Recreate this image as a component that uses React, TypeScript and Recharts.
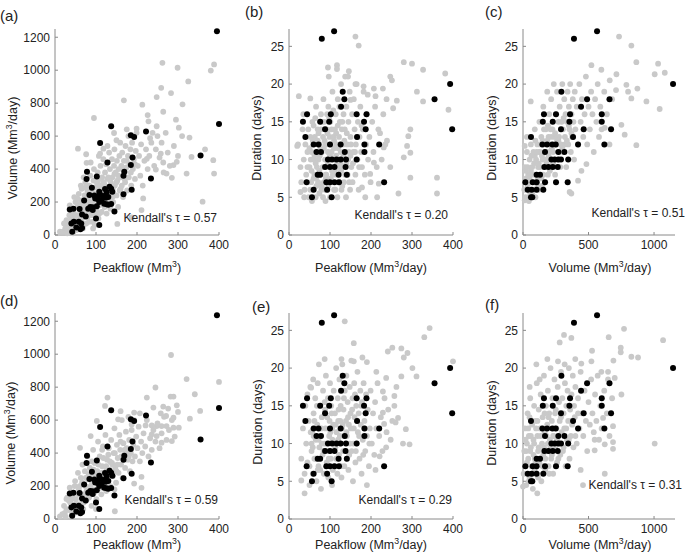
import { ScatterChart, Scatter, XAxis, YAxis } from 'recharts'

type Pt = [number, number]

// observed events (black) - same in top and bottom rows
const peakVolObs: Pt[] = [
  [395,1236],[400,674],[355,482],[222,628],[185,606],[193,595],[137,660],[110,559],[189,471],[185,424],
  [128,440],[78,384],[169,384],[77,340],[102,355],[167,360],[234,343],[133,293],[137,281],[90,287],
  [122,279],[187,274],[167,247],[108,262],[126,259],[84,242],[96,240],[102,232],[110,245],[118,236],
  [124,226],[98,222],[104,218],[114,214],[130,230],[140,262],[71,210],[120,190],[126,186],[130,184],
  [108,200],[137,188],[86,170],[92,168],[102,175],[145,142],[36,155],[45,160],[60,158],[81,160],
  [92,152],[66,125],[75,112],[100,100],[108,60],[58,80],[64,70],[46,80],[40,70],[66,42],
  [42,20],[62,35],[52,45],
]
const peakDurObs: Pt[] = [
  [80,26],[110,27],[131,19],[135,18],[127,17],[393,20],[355,18],[398,14],[44,16],[102,16],
  [165,16],[189,16],[34,15],[76,15],[98,15],[183,15],[88,14],[187,14],[40,13],[166,13],
  [60,12],[72,12],[100,12],[126,12],[184,12],[220,12],[67,11],[78,11],[136,11],[184,11],
  [95,10],[105,10],[116,10],[126,10],[139,10],[165,10],[88,9],[100,9],[111,9],[138,9],
  [70,8],[76,8],[121,8],[141,8],[43,7],[91,7],[100,7],[111,7],[122,7],[232,7],
  [60,6],[93,6],[56,5],[104,5],
]
const volDurObs: Pt[] = [
  [389,26],[565,27],[1145,20],[293,19],[489,18],[660,18],[443,17],[160,16],[252,16],[359,16],
  [601,16],[151,15],[227,15],[354,15],[601,15],[290,14],[463,14],[672,14],[61,13],[382,13],
  [148,12],[184,12],[224,12],[250,12],[420,12],[621,12],[168,11],[270,11],[316,11],[217,10],
  [242,10],[270,10],[290,10],[345,10],[163,9],[194,9],[227,9],[265,9],[104,8],[130,8],
  [252,7],[18,7],[74,7],[104,7],[168,7],[341,7],[36,6],[66,6],[104,6],[155,6],
  [61,5],[71,5],
]

// simulated events (gray), model 1 (top row)
const peakVolSim1: Pt[] = [
  [262,1045],[299,1015],[388,1035],[380,998],[325,932],[259,893],[248,837],[283,861],[168,817],[213,791],
  [311,793],[264,748],[95,710],[226,728],[248,660],[302,651],[328,591],[175,641],[199,645],[232,587],
  [144,619],[150,575],[118,524],[56,524],[76,490],[77,438],[110,494],[388,373],[366,520],[360,202],
  [285,347],[289,424],[272,373],[246,397],[224,462],[258,494],[264,440],[297,444],[333,474],[386,454],
  [321,373],[215,222],[211,151],[187,107],[152,67],[12,20],[28,50],[45,111],
  [20,20],[25,40],[28,90],[30,10],[32,60],[35,120],[38,30],[40,100],[22,70],[36,180],
  [42,50],[45,140],[48,90],[50,200],[52,30],[55,170],[56,120],[58,250],[60,60],[47,230],[53,100],[44,10],
  [62,150],[64,210],[65,280],[66,100],[68,40],[70,180],[72,240],[74,320],[75,130],[76,70],[78,200],[79,270],[70,350],[63,300],
  [80,110],[82,170],[84,300],[85,230],[86,360],[88,140],[90,200],[91,260],[92,80],[94,330],[95,400],[96,180],[98,120],[99,290],[87,440],[93,40],
  [100,220],[101,150],[102,320],[104,380],[105,260],[106,100],[108,180],[110,300],[111,420],[112,230],[114,140],[115,350],[116,270],[118,460],[119,200],[107,480],
  [120,310],[121,170],[122,380],[124,250],[125,430],[126,130],[128,340],[130,210],[131,290],[132,500],[134,400],[135,160],[136,320],[138,240],[139,460],[128,540],
  [140,350],[141,280],[142,200],[144,420],[145,520],[146,300],[148,380],[150,240],[151,450],[152,330],[154,170],[155,400],[157,480],[158,270],[159,560],
  [160,350],[162,420],[163,300],[164,500],[166,230],[168,450],[170,380],[171,320],[172,540],[174,410],[176,270],[178,480],[179,600],
  [180,350],[182,430],[184,520],[186,300],[188,560],[190,400],[192,460],[195,340],[197,510],[199,620],
  [202,420],[205,480],[208,360],[210,550],[214,300],[218,450],[222,520],[226,400],[230,480],[235,560],[238,620],[228,690],
  [242,420],[246,520],[250,600],[255,470],[260,560],[265,380],[270,620],[275,500],[280,420],[290,540],[295,700],[300,480],[310,600],
  [30,40],[35,80],[40,150],[45,50],[50,120],[55,220],[60,100],[62,190],[67,140],[70,60],
  [72,160],[75,290],[80,210],[83,80],[85,180],[88,260],[90,120],[95,240],[97,60],[100,180],
  [103,250],[105,330],[108,130],[112,280],[115,190],[118,320],[122,220],[125,280],[130,350],[135,260],
  [140,230],[145,370],[150,320],[155,360],[160,280],[165,400],[170,340],[175,450],[185,380],[195,430],
]
const peakDurSim1: Pt[] = [
  [162,26.3],[170,25.1],[117,22.5],[95,22.2],[146,21.7],[137,21],[280,22.9],[300,22.7],[327,21.9],[381,21.4],
  [247,21],[251,20.5],[312,19],[162,20],[182,19.7],[207,19.4],[229,19.4],[192,18.6],[211,18.4],[24,18.4],
  [52,18.1],[327,17.7],[389,16.6],[263,17.8],[150,17.9],[254,16.8],[296,14],[291,13.1],[288,11.8],[296,10.9],
  [280,10.3],[361,7.6],[296,7.6],[267,5.5],[361,5.5],[215,5],[178,6.3],[247,9],[239,12.5],[231,11.6],
  [207,9.6],[198,8.1],[219,6.8],[20,11.8],[28,5.7],[37,5],
  [22,12],[28,9],[30,7],[33,14],[36,10],[38,6],[40,12],[42,8],[45,11],[48,5],[35,16],[47,14],
  [50,9],[52,13],[54,7],[55,11],[57,15],[58,6],[60,10],[62,8],[63,13],[65,5],[66,17],[68,9],[69,11],[56,4.5],
  [70,14],[71,7],[72,10],[74,5.5],[75,12],[76,8],[78,16],[79,6],[80,11],[82,9],[83,13],[85,7],[86,15],[88,10],[89,4.5],[84,18],
  [90,12],[91,8],[92,14],[94,6],[95,11],[96,17],[98,9],[99,13],[100,5],[101,15],[103,7],[104,11],[106,19],[107,8],[108,13],[110,6],[97,21],
  [111,10],[112,14],[114,16],[115,8],[116,12],[118,5],[119,18],[120,9],[122,13],[123,7],[124,15],[126,11],[127,20],[128,6],[129,14],[117,22],
  [130,9],[132,12],[133,16],[134,7],[136,14],[138,10],[139,5],[140,17],[142,12],[143,8],[145,15],[146,11],[148,19],[149,6],[144,21],
  [150,13],[152,9],[154,16],[155,7],[157,11],[158,18],[160,14],[162,8],[163,12],[165,20],[167,10],[168,15],
  [170,6],[172,13],[174,17],[176,11],[178,9],[180,14],[182,19],[185,8],[188,12],[190,16],[193,10],[196,13],[199,7],[186,5],
  [203,15],[206,11],[210,17],[214,9],[218,14],[222,13.5],[226,10],[230,16],[235,12],[238,18],
  [55,8.5],[65,9.5],[75,10.5],[85,11.5],[95,9.5],[105,8.5],[115,10.5],[125,9.5],[135,12.5],[60,7.5],
  [70,12.5],[80,6.5],[90,7.5],[100,10.5],[110,12.5],[120,11.5],[130,6.5],[140,9.5],[150,10.5],[50,11.5],
  [45,9],[60,14.5],[78,14],[102,12],[112,8.5],[88,6],[67,6.5],[53,10],[93,16],[123,17],
  [52,6],[58,12.5],[62,10.5],[64,15.5],[66,7.5],[72,13.5],[74,8.5],[77,11.5],[81,15],[83,5],
  [87,12.5],[89,8],[92,10],[94,13.5],[96,6.5],[98,15.5],[102,7.5],[104,14],[106,9],[108,16.5],
  [110,11.5],[113,6],[115,13.5],[117,9.5],[119,14.5],[121,7],[124,12],[127,8.5],[130,15],[133,10.5],
  [137,8],[141,13.5],[144,10],[147,7],[151,12],[156,9.5],[161,11],[166,13],[171,9],[177,14.5],
]
const volDurSim1: Pt[] = [
  [733,26.3],[827,25.1],[865,22.9],[1031,22.7],[1082,21.5],[1005,21.3],[713,21.3],[598,21.9],[662,20.5],[522,22.5],
  [789,19.9],[873,19.4],[802,19],[710,19.2],[942,17.7],[1043,16.7],[827,18.1],[751,14.6],[865,11.9],[776,13.3],
  [624,14.2],[484,9.4],[420,7.2],[446,8.5],[369,5.5],[356,5.7],[59,17.7],[13,4.6],[13,11.8],[51,5],
  [10,6],[15,9],[20,5],[25,7.5],[30,11],[35,6.5],[40,8],[45,4.5],[50,10],[55,5.5],[60,12],[65,7],[70,9],[75,6],[80,11],[85,8],[90,14],[95,5],[100,10],[30,13],
  [105,7],[110,12],[115,9],[120,6],[125,15],[130,11],[135,8],[140,13],[145,6.5],[150,10],[155,17],[160,9],[165,12],[170,7],[175,14],[180,11],[185,19],[190,8],[195,13],[200,16],
  [205,10],[210,12],[215,18],[220,9],[225,14],[230,11],[235,20],[240,13],[245,8],[250,16],[255,12],[260,19],[265,10],[270,15],[275,13],[280,17],[285,9],[290,12],[295,15],[300,20],
  [305,14],[310,11],[315,18],[320,13],[325,16],[330,9],[335,15],[340,19],[345,12],[350,17],[355,14],[360,20],[365,11],[370,16],[375,13],[380,18],[385,15],[390,10],[395,19],[400,14],
  [410,17],[420,12],[430,20],[440,15],[450,18],[460,13],[470,16],[480,21],[490,12],[500,17],[510,14],[520,19],[530,16],[540,11],[550,18],[560,15],[570,20],[580,13],[590,17],[600,14],[620,19],[640,16],[660,12],[680,18],
  [60,8.5],[90,10.5],[120,9.5],[140,7.5],[170,10],[200,11],[230,9.5],[260,12.5],[110,6.5],[80,7],
  [150,12.5],[190,14.5],[240,10],[280,11],[320,12],[175,9],[125,11],[215,13],[95,12.5],[50,7.5],
  [20,8.5],[35,9],[45,6],[55,8],[65,10.5],[70,5.5],[85,9.5],[100,8],[105,11],[115,7.5],
  [130,9],[135,12],[145,10.5],[155,8],[160,14],[180,9.5],[185,12.5],[195,10.5],[205,8.5],[210,14],
  [220,11.5],[245,13.5],[255,10],[270,12.5],[290,14],[300,11.5],[310,15.5],[335,12.5],[350,14.5],[370,13.5],
]

// simulated events (gray), model 2 (bottom row)
const peakVolSim2: Pt[] = [
  [283,995],[321,849],[400,832],[341,757],[282,743],[289,743],[245,798],[224,737],[354,656],[329,609],
  [240,676],[264,682],[276,670],[297,690],[271,625],[289,615],[207,641],[258,641],[187,574],[221,568],
  [236,568],[248,564],[260,564],[236,514],[272,564],[302,554],[285,473],[260,463],[248,503],[289,554],
  [128,737],[122,686],[160,654],[154,605],[193,646],[102,595],[87,503],[61,432],[211,256],[211,189],
  [193,215],[146,47],[12,16],[24,37],[28,122],
  [18,30],[22,80],[26,15],[30,130],[33,55],[36,190],[38,95],[41,25],[44,160],[46,70],[49,230],[51,120],[54,40],[56,280],[58,180],
  [61,90],[63,250],[65,140],[67,330],[69,60],[71,210],[73,290],[75,110],[77,170],[79,380],[81,240],[83,130],[85,310],[87,200],[89,80],
  [91,270],[93,420],[95,160],[97,340],[99,230],[101,120],[103,290],[105,470],[107,190],[109,380],[111,250],[113,150],[115,320],[117,440],[119,210],
  [121,280],[123,510],[125,170],[127,360],[129,240],[131,430],[133,300],[135,200],[137,480],[139,340],[141,260],[143,400],[145,550],[147,310],[149,220],
  [151,450],[153,370],[155,280],[157,510],[159,420],[161,330],[163,600],[165,250],[167,460],[169,390],[171,310],[173,530],[175,430],[177,360],[179,620],
  [181,480],[183,290],[185,400],[187,540],[189,350],[191,450],[193,600],[195,380],[198,500],[201,430],[204,560],[207,350],[210,470],[213,400],[216,520],
  [220,440],[224,600],[228,380],[232,490],[236,420],[240,540],[245,470],[250,580],[255,430],[260,520],[266,620],[272,480],[278,540],[285,600],[292,500],[300,650],
  [40,120],[60,200],[80,160],[100,280],[120,230],[140,330],[90,350],[110,190],[130,390],[150,290],
  [70,100],[50,60],[170,420],[160,470],[180,380],[100,60],[75,250],[125,320],[145,180],[115,420],
  [28,60],[34,110],[39,50],[43,140],[48,200],[53,90],[57,150],[62,60],[66,220],[70,150],
  [74,200],[78,120],[82,270],[86,150],[90,220],[94,300],[98,180],[102,250],[106,330],[110,220],
  [114,280],[118,370],[122,260],[126,300],[134,350],[138,270],[146,400],[152,330],[162,380],[176,410],
]
const peakDurSim2: Pt[] = [
  [136,26.2],[158,23.3],[343,25.3],[330,24.1],[252,22.7],[241,22.2],[274,22.6],[289,22],[280,21.4],[87,21.2],
  [73,20.5],[128,21.2],[179,21.4],[190,20.8],[158,20.9],[213,19.5],[301,20],[311,18.9],[274,18.9],[237,18.7],
  [262,17.5],[400,20.9],[59,18.5],[54,17.4],[45,16.5],[229,16.9],[257,16.3],[257,15],[266,13.4],[260,12.8],
  [285,11.9],[278,10],[294,9.9],[211,6.5],[190,4.5],[221,8.3],[237,9.5],[38,3.4],[30,5.1],[229,14.1],[232,12.6],
  [30,8],[34,12],[38,6],[40,15],[42,10],[45,7.5],[48,13],[50,4.5],[52,17.5],[55,9],[57,11.5],[58,6],[60,14],[62,8],[64,16],
  [65,10.5],[67,5],[69,12.5],[70,18],[72,7],[74,9.5],[75,15],[77,11],[78,4],[80,13.5],[82,8.5],[83,17],[85,6],[86,10],[88,14.5],
  [89,12],[90,19],[92,7.5],[94,9],[95,16],[96,5.5],[98,11],[99,13],[100,18],[102,8],[103,15],[105,4.5],[106,10.5],[108,12.5],[109,17],
  [110,7],[112,14],[113,9.5],[115,20],[116,11.5],[118,6],[119,16],[120,13],[122,8.5],[123,18.5],[125,10],[126,15],[128,5.5],[129,12],[130,20.5],
  [132,9],[133,14.5],[135,7],[136,17],[138,11],[139,13],[140,19],[142,8],[143,15.5],[145,6.5],[146,12.5],[148,17.5],[149,10],[150,14],[152,21],
  [153,9],[155,16],[156,5],[158,12],[159,18],[160,13.5],[162,7.5],[164,15],[165,10],[167,19.5],[168,11.5],[170,14],[172,8],[174,17],[175,12.5],
  [177,6],[178,15.5],[180,10.5],[182,18],[184,13],[186,9],[188,16.5],[190,11],[192,14.5],[195,7],[197,12],[199,17],[202,10],[205,14],[208,8.5],
  [210,15.5],[213,12],[216,18],[220,11],[224,13.5],[228,9],[233,16],[238,11.5],[242,14.5],[248,10.5],[252,13],
  [55,10],[65,8],[75,12],[85,9],[95,7],[105,12],[115,8],[125,13],[135,11],[60,11],[80,10],[100,9],[120,10.5],[140,11.5],[70,6.5],
  [50,7],[53,11.5],[58,9.5],[62,13],[66,8],[68,15],[72,10.5],[76,6.5],[79,12],[84,9],
  [87,15.5],[91,10],[93,13.5],[97,8],[101,11.5],[104,14],[107,6.5],[111,10],[114,12.5],[117,8],
  [121,14.5],[124,11],[127,7],[131,12.5],[134,16],[137,9],[141,11],[144,13.5],[147,8.5],[151,12],
  [154,14.5],[157,10],[161,16.5],[163,9],[166,13],[171,11],[176,15],[181,8.5],[185,12],[196,10],
]
const volDurSim2: Pt[] = [
  [654,24.1],[771,25.2],[746,22.7],[827,21.5],[878,21.4],[1069,23.7],[746,22.1],[690,21],[649,19.5],[313,24.4],
  [280,23.4],[369,24],[527,22.3],[522,20.9],[399,21.2],[445,20.6],[186,21.2],[102,20.5],[267,20.9],[318,20.5],
  [598,19.5],[649,18.5],[700,18.7],[751,16.5],[1005,10],[611,13.4],[687,12.3],[687,10.2],[687,9.3],[624,9.9],
  [547,9.1],[624,6],[440,6.5],[458,4.5],[547,10.5],[109,3.4],[0,4.3],[51,17.5],[127,18.5],
  [5,6],[10,9],[15,12],[20,7],[25,4.5],[30,10],[35,14],[40,8],[45,11],[50,5.5],[55,16],[60,9.5],[65,7],[70,12.5],[75,4],
  [80,10.5],[85,15],[90,8],[95,13],[100,6],[105,18],[110,11],[115,9],[120,14.5],[125,7.5],[130,12],[135,16.5],[140,5],[145,10],[150,13.5],
  [155,8.5],[160,19],[165,11.5],[170,6.5],[175,15],[180,9],[185,12.5],[190,17],[195,7],[200,14],[205,10.5],[210,20],[215,8],[220,13],[225,16],
  [230,6],[235,11],[240,18.5],[245,9.5],[250,14.5],[255,12],[260,7.5],[265,17.5],[270,10],[275,15.5],[280,13],[285,8.5],[290,19.5],[295,11.5],[300,16],
  [305,9],[310,14],[315,12],[320,18],[325,7],[330,15],[335,10.5],[340,17],[345,13],[350,20],[355,8],[360,14.5],[365,11],[370,16.5],[375,12.5],
  [380,19],[385,9.5],[390,15],[395,13.5],[400,17.5],[410,10],[420,16],[430,12],[440,19.5],[450,14],[460,11],[470,17],[480,13],[490,9],[500,15.5],
  [510,12.5],[520,18.5],[530,14],[540,11.5],[550,16.5],[560,13],[570,19],[580,10.5],[590,15],[600,12],[620,17],[640,14],[660,11],[680,16],
  [30,7.5],[60,11],[90,6.5],[120,9.5],[150,7],[180,11],[210,9.5],[240,12],[270,8],[110,13],[80,8.5],[200,6],[50,13.5],[140,12],[260,10.5],[20,10.5],
  [15,7],[25,9],[40,12],[45,5],[55,9],[65,13],[70,6],[85,10],[95,7.5],[100,12],
  [115,5.5],[130,8],[135,11],[160,9.5],[165,14],[170,8],[190,10],[195,13.5],[220,8.5],[230,11],
  [245,14],[250,7],[280,10],[290,13.5],[310,9.5],[330,12],[350,10.5],[370,13],[400,11],[420,14],
]

const PEAK_TICKS = [0, 100, 200, 300, 400]
const VOL_TICKS = [0, 200, 400, 600, 800, 1000, 1200]
const VOLX_TICKS = [0, 500, 1000]
const DUR_TICKS = [0, 5, 10, 15, 20, 25]
const TAUS = ['0.57', '0.20', '0.51', '0.59', '0.29', '0.31']
const LETTERS = ['(a)', '(b)', '(c)', '(d)', '(e)', '(f)']

const GRAY = '#c9c9c9'
const AXIS = '#8a8a8a'
const TEXT = '#222'
const FONT = '"Liberation Sans", Arial, Helvetica, sans-serif'

const toPts = (arr: Pt[]) => arr.map(([x, y]) => ({ x, y }))

const grayDot = (p: any) => <circle cx={p.cx} cy={p.cy} r={2.9} fill={GRAY} />
const blackDot = (p: any) => <circle cx={p.cx} cy={p.cy} r={3} fill="#000" />

function Panel({ left, top, width, sim, obs, xMax, xTicks, yMax, yTicks }: any) {
  return (
    <div style={{ position: 'absolute', left, top }}>
      <ScatterChart width={width} height={270} margin={{ top: 29, right: 11, left: 0, bottom: 0 }}>
        <XAxis
          type="number"
          dataKey="x"
          domain={[0, xMax]}
          ticks={xTicks}
          height={35}
          stroke={AXIS}
          tickSize={-3}
          tickMargin={8}
          tick={{ fill: TEXT, fontSize: 12, fontFamily: FONT }}
        />
        <YAxis
          type="number"
          dataKey="y"
          domain={[0, yMax]}
          ticks={yTicks}
          width={55}
          stroke={AXIS}
          tickSize={-3}
          tickMargin={8}
          tick={{ fill: TEXT, fontSize: 12, fontFamily: FONT }}
        />
        <Scatter data={toPts(sim)} shape={grayDot} isAnimationActive={false} />
        <Scatter data={toPts(obs)} shape={blackDot} isAnimationActive={false} />
      </ScatterChart>
    </div>
  )
}

const Mm3 = () => (
  <>Mm<sup style={{ fontSize: '0.7em', lineHeight: 0 }}>3</sup></>
)

function XTitle({ cx, cy, children }: any) {
  return (
    <div style={{ position: 'absolute', left: cx, top: cy, transform: 'translate(-50%,-50%)', whiteSpace: 'nowrap', fontSize: 12.5 }}>
      {children}
    </div>
  )
}

function YTitle({ cx, cy, children }: any) {
  return (
    <div style={{ position: 'absolute', left: cx, top: cy, transform: 'translate(-50%,-50%) rotate(-90deg)', whiteSpace: 'nowrap', fontSize: 12.5 }}>
      {children}
    </div>
  )
}

function Tau({ right, cy, value }: any) {
  return (
    <div style={{ position: 'absolute', left: right, top: cy, transform: 'translate(-100%,-50%)', whiteSpace: 'nowrap', fontSize: 12 }}>
      Kendall's τ = {value}
    </div>
  )
}

export default function App() {
  const rows = [
    { top: 0, sims: [peakVolSim1, peakDurSim1, volDurSim1] },
    { top: 284, sims: [peakVolSim2, peakDurSim2, volDurSim2] },
  ]
  const letterPos = [
    [0, 15], [245, 11], [485, 11],
    [0, 300], [252, 306], [485, 304],
  ]
  const tauPos = [
    [217, 218], [448, 215], [685, 213],
    [218, 500], [452, 500], [682, 485],
  ]
  return (
    <div style={{ position: 'absolute', left: 0, top: 0, width: 685, height: 557, background: '#fff', fontFamily: FONT, color: TEXT, overflow: 'hidden' }}>
      {rows.map((r, i) => (
        <div key={i}>
          <Panel left={0} top={r.top} width={230} sim={r.sims[0]} obs={peakVolObs} xMax={400} xTicks={PEAK_TICKS} yMax={1250} yTicks={VOL_TICKS} />
          <Panel left={234} top={r.top} width={230} sim={r.sims[1]} obs={peakDurObs} xMax={400} xTicks={PEAK_TICKS} yMax={27.3} yTicks={DUR_TICKS} />
          <Panel left={468} top={r.top} width={218} sim={r.sims[2]} obs={volDurObs} xMax={1160} xTicks={VOLX_TICKS} yMax={27.3} yTicks={DUR_TICKS} />
        </div>
      ))}

      <YTitle cx={12.5} cy={148}>Volume (<Mm3 />/day)</YTitle>
      <YTitle cx={257} cy={138}>Duration (days)</YTitle>
      <YTitle cx={492} cy={138}>Duration (days)</YTitle>
      <YTitle cx={11} cy={433}>Volume (<Mm3 />/day)</YTitle>
      <YTitle cx={257.5} cy={422}>Duration (days)</YTitle>
      <YTitle cx={492} cy={423}>Duration (days)</YTitle>

      <XTitle cx={137} cy={268}>Peakflow (<Mm3 />)</XTitle>
      <XTitle cx={371} cy={268}>Peakflow (<Mm3 />/day)</XTitle>
      <XTitle cx={600} cy={268}>Volume (<Mm3 />/day)</XTitle>
      <XTitle cx={137} cy={545}>Peakflow (<Mm3 />)</XTitle>
      <XTitle cx={371} cy={545}>Peakflow (<Mm3 />/day)</XTitle>
      <XTitle cx={600} cy={545}>Volume (<Mm3 />/day)</XTitle>

      {LETTERS.map((l, i) => (
        <div key={l} style={{ position: 'absolute', left: letterPos[i][0], top: letterPos[i][1], transform: 'translateY(-50%)', fontSize: 15, lineHeight: 1 }}>
          {l}
        </div>
      ))}
      {TAUS.map((t, i) => (
        <Tau key={i} right={tauPos[i][0]} cy={tauPos[i][1]} value={t} />
      ))}
    </div>
  )
}
